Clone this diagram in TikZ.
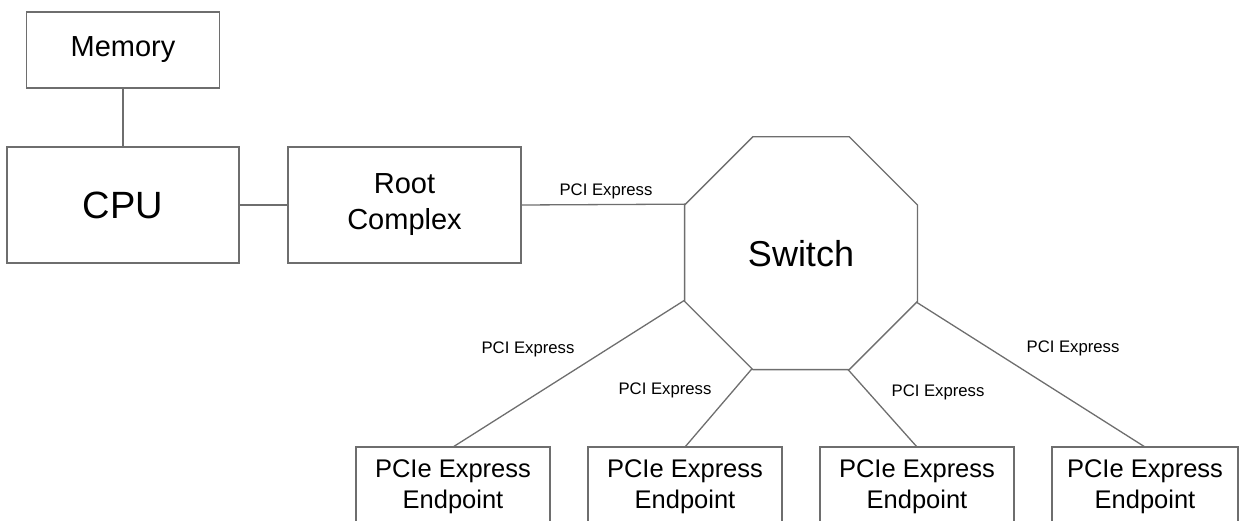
\documentclass[tikz,border=0pt]{standalone}
\usepackage{fontspec}
\setmainfont{Liberation Sans}
\usetikzlibrary{positioning,shapes.geometric}
\definecolor{wire}{HTML}{6E6E6E}
\tikzset{
  box/.style={draw=wire,line width=1.3pt,inner sep=0pt,outer sep=0pt,align=center,text=black},
  ep/.style={box,minimum width=194pt,minimum height=80pt,font=\fontsize{25.5}{31}\selectfont},
  lab/.style={font=\fontsize{16.7}{20}\selectfont,inner sep=0pt,text=black},
  link/.style={draw=wire,line width=1.3pt},
}
\begin{document}
\begin{tikzpicture}[x=1pt,y=-1pt,node distance=38pt]
\useasboundingbox (0,0) rectangle (1241,521);
\clip (0,0) rectangle (1241,521);
\node[box,minimum width=232pt,minimum height=116pt,font=\fontsize{38}{44}\selectfont] (cpu) at (123,205) {CPU};
\node[box,minimum width=193pt,minimum height=76pt,font=\fontsize{29}{36}\selectfont,above=59pt of cpu] (mem) {Memory};
\node[box,minimum width=233pt,minimum height=116pt,font=\fontsize{29}{36}\selectfont,right=49pt of cpu] (rc) {Root\\Complex};
\node[box,regular polygon,regular polygon sides=8,minimum size=252pt,font=\fontsize{36}{42}\selectfont] (sw) at (801,253.2) {Switch};
\node[ep] (e1) at (453,487) {PCIe Express\\Endpoint};
\node[ep,right=of e1] (e2) {PCIe Express\\Endpoint};
\node[ep,right=of e2] (e3) {PCIe Express\\Endpoint};
\node[ep,right=of e3,minimum width=186pt] (e4) {PCIe Express\\Endpoint};
\draw[link] (mem)--(cpu);
\draw[link] (cpu)--(rc);
\draw[link] (rc.east)--(sw.157.5);
\foreach \a/\v in {202.5/e1,247.5/e2,292.5/e3,337.5/e4} \draw[link] (sw.\a)--(\v.north);
% link labels
\node[lab] (l1) at (606,191.5) {PCI Express};
\node[lab] (l2) at (528,349.5) {PCI Express};
\node[lab] (l3) at (665,390.5) {PCI Express};
\node[lab] (l4) at (938,392.5) {PCI Express};
\node[lab] (l5) at (1073,348.5) {PCI Express};
\end{tikzpicture}
\end{document}
